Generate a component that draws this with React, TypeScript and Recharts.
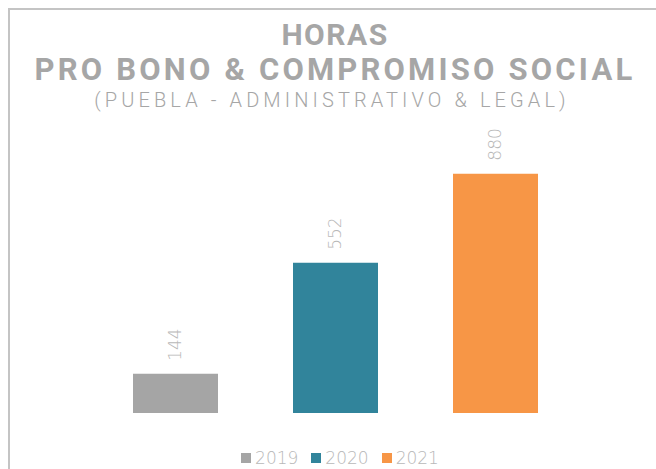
import { BarChart, Bar, XAxis, YAxis, Cell, LabelList } from 'recharts';

const years = ['2019', '2020', '2021'];
const hours = [144, 552, 880];
const colors = ['#a5a5a5', '#31849b', '#f79646'];

const data = years.map((year, i) => ({ year, hours: hours[i] }));

const grey = '#a6a6a6';
const lightGrey = '#b8b8b8';

const RotatedLabel = (props: any) => {
  const { x, y, width, value } = props;
  const cx = x + width / 2;
  const ty = y - 13;
  return (
    <text
      x={cx}
      y={ty}
      transform={`rotate(-90, ${cx}, ${ty})`}
      textAnchor="start"
      dominantBaseline="central"
      fill={lightGrey}
      fontSize={17}
      fontFamily="'DejaVu Sans', sans-serif"
      fontWeight={200}
    >
      {value}
    </text>
  );
};

export default function App() {
  return (
    <div style={{ position: 'absolute', left: 0, top: 0, width: 656, height: 469, overflow: 'hidden', background: '#fff' }}>
      <div style={{ position: 'absolute', left: 8, top: 8, width: 700, height: 500, border: '2px solid #c4c4c4' }} />
      <div style={{ position: 'absolute', left: 0, top: 0, width: 656, textAlign: 'center', color: grey, fontFamily: "Roboto, 'Noto Sans', sans-serif" }}>
        <div style={{ position: 'absolute', left: 0, width: 670, top: 17, fontSize: 30, fontWeight: 700, letterSpacing: '1.5px', lineHeight: '36px' }}>
          HORAS
        </div>
        <div style={{ position: 'absolute', left: 0, width: 670, top: 52, fontSize: 31, fontWeight: 700, letterSpacing: '3.2px', lineHeight: '36px', whiteSpace: 'nowrap' }}>
          PRO BONO &amp; COMPROMISO SOCIAL
        </div>
        <div style={{ position: 'absolute', left: 0, width: 664, top: 88, fontSize: 20, fontWeight: 300, letterSpacing: '4.1px', lineHeight: '24px', whiteSpace: 'nowrap' }}>
          (PUEBLA - ADMINISTRATIVO &amp; LEGAL)
        </div>
      </div>
      <div style={{ position: 'absolute', left: 0, top: 0 }}>
        <BarChart width={656} height={469} data={data} margin={{ top: 141, right: 81, bottom: 56, left: 95 }}>
          <XAxis dataKey="year" hide />
          <YAxis domain={[0, 1000]} hide />
          <Bar dataKey="hours" barSize={85} isAnimationActive={false}>
            {data.map((d, i) => (
              <Cell key={d.year} fill={colors[i]} />
            ))}
            <LabelList dataKey="hours" content={RotatedLabel} />
          </Bar>
        </BarChart>
      </div>
      <div style={{ position: 'absolute', left: 12, top: 447, width: 656, display: 'flex', justifyContent: 'center', gap: 13, fontFamily: "'DejaVu Sans', sans-serif", fontSize: 17, fontWeight: 200, color: lightGrey, lineHeight: '22px' }}>
        {years.map((y, i) => (
          <div key={y} style={{ display: 'flex', alignItems: 'center', gap: 4 }}>
            <span style={{ display: 'inline-block', width: 10, height: 10, background: colors[i] }} />
            <span>{y}</span>
          </div>
        ))}
      </div>
    </div>
  );
}
